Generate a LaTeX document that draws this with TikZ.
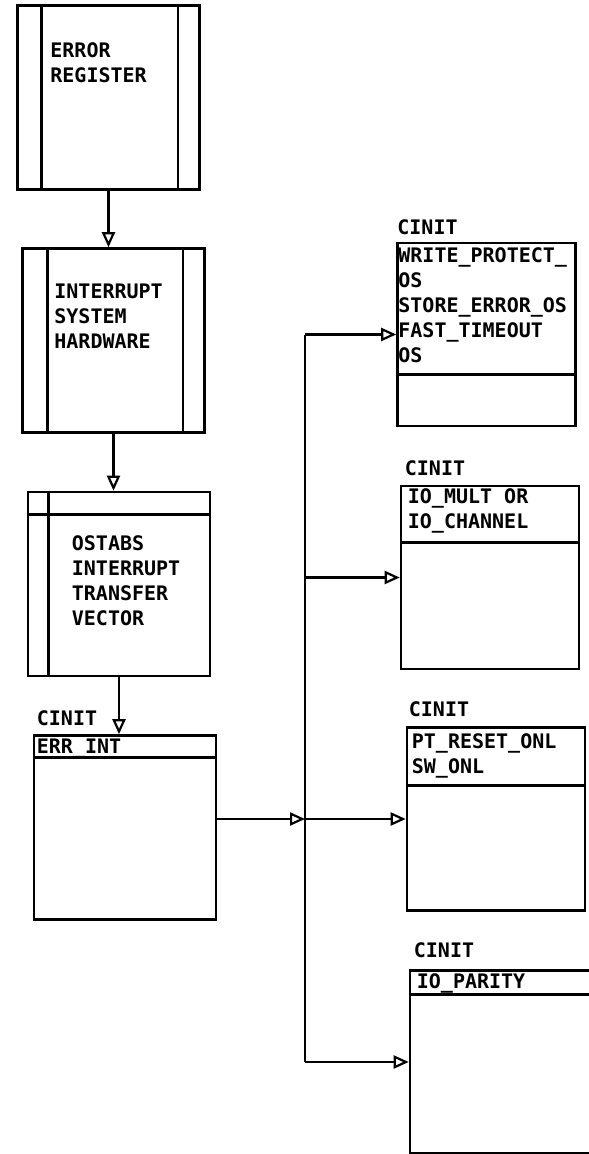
\documentclass[tikz,border=0pt]{standalone}
\usepackage{fontspec}
\setmonofont{DejaVu Sans Mono}
\usetikzlibrary{arrows.meta,positioning}

\begin{document}
\begin{tikzpicture}[
        x=1pt, y=-1pt,
        >={Triangle[open,length=15pt,width=13pt,line width=2.2pt]},
        proc/.style={draw, line width=2.6pt, minimum width=182pt, minimum height=184pt, inner sep=0pt},
        module/.style={draw, line width=2.6pt, minimum width=178pt, minimum height=183pt, inner sep=0pt},
        txt/.style={inner sep=0pt, align=left, font=\ttfamily\bfseries\fontsize{20}{25}\selectfont},
        rule/.style={line width=2.6pt},
        flow/.style={->, line width=2.3pt}
    ]
        \useasboundingbox (0,0) rectangle (589,1154);
        \clip (0,0) rectangle (589,1154);
        % left column
        \node[proc] (reg) at (108.5,97.5) {};
        \node[proc] (hw) at (113.5,340.5) {};
        \node[proc] (tv) at (119,584) {};
        \node[proc] (err) at (125,827.5) {};
        % right column
        \node[module] (wp) at (486.5,334.5) {};
        \node[module] (iom) at (490,577.5) {};
        \node[module] (onl) at (496,819) {};
        \node[module, minimum width=190pt] (par) at (505,1062) {};
        % side bars and header lines
        \draw[rule] ([xshift=25pt]reg.north west) -- ([xshift=25pt]reg.south west);
        \draw[rule] ([xshift=-23pt]reg.north east) -- ([xshift=-23pt]reg.south east);
        \draw[rule] ([xshift=26pt]hw.north west) -- ([xshift=26pt]hw.south west);
        \draw[rule] ([xshift=-23pt]hw.north east) -- ([xshift=-23pt]hw.south east);
        \draw[rule] ([xshift=22pt]tv.north west) -- ([xshift=22pt]tv.south west);
        \draw[rule] ([yshift=-24pt]tv.north west) -- ([yshift=-24pt]tv.north east);
        \draw[rule] ([yshift=-23pt]err.north west) -- ([yshift=-23pt]err.north east);
        \draw[rule] ([yshift=-133pt]wp.north west) -- ([yshift=-133pt]wp.north east);
        \draw[rule] ([yshift=-58pt]iom.north west) -- ([yshift=-58pt]iom.north east);
        \draw[rule] ([yshift=-59pt]onl.north west) -- ([yshift=-59pt]onl.north east);
        \draw[rule] ([yshift=-25pt]par.north west) -- ([yshift=-25pt]par.north east);
        % texts
        \node[txt, below right=38pt and 34pt of reg.north west] (reg-text) {ERROR\\REGISTER};
        \node[txt, below right=37pt and 33pt of hw.north west] (hw-text) {INTERRUPT\\SYSTEM\\HARDWARE};
        \node[txt, below right=45pt and 45pt of tv.north west] (tv-text) {OSTABS\\INTERRUPT\\TRANSFER\\VECTOR};
        \node[txt, below right=5pt and 4pt of err.north west] (err-text) {ERR\_INT};
        \node[txt, below right=6pt and 2pt of wp.north west] (wp-text) {WRITE\_PROTECT\_\\OS\\STORE\_ERROR\_OS\\FAST\_TIMEOUT\\OS};
        \node[txt, below right=4pt and 8pt of iom.north west] (iom-text) {IO\_MULT OR\\IO\_CHANNEL};
        \node[txt, below right=7pt and 6pt of onl.north west] (onl-text) {PT\_RESET\_ONL\\SW\_ONL};
        \node[txt, below right=4pt and 8pt of par.north west] (par-text) {IO\_PARITY};
        \node[txt, above right=8pt and 4pt of err.north west] (err-cinit) {CINIT};
        \node[txt, above right=7pt and 1pt of wp.north west] (wp-cinit) {CINIT};
        \node[txt, above right=9pt and 5pt of iom.north west] (iom-cinit) {CINIT};
        \node[txt, above right=9pt and 3pt of onl.north west] (onl-cinit) {CINIT};
        \node[txt, above right=11pt and 5pt of par.north west] (par-cinit) {CINIT};
        % connectors
        \coordinate (bus) at (305,0);
        \draw[line width=2.3pt] (wp.west -| bus) -- (par.west -| bus);
        \draw[flow] (reg.south) -- (reg.south |- hw.north);
        \draw[flow] (hw.south) -- (hw.south |- tv.north);
        \draw[flow] (tv.south) -- (tv.south |- err.north);
        \draw[flow] (err.east |- onl.west) -- (onl.west -| bus);
        \foreach \m in {wp,iom,onl,par}
            \draw[flow] (\m.west -| bus) -- (\m.west);
    \end{tikzpicture}
\end{document}
